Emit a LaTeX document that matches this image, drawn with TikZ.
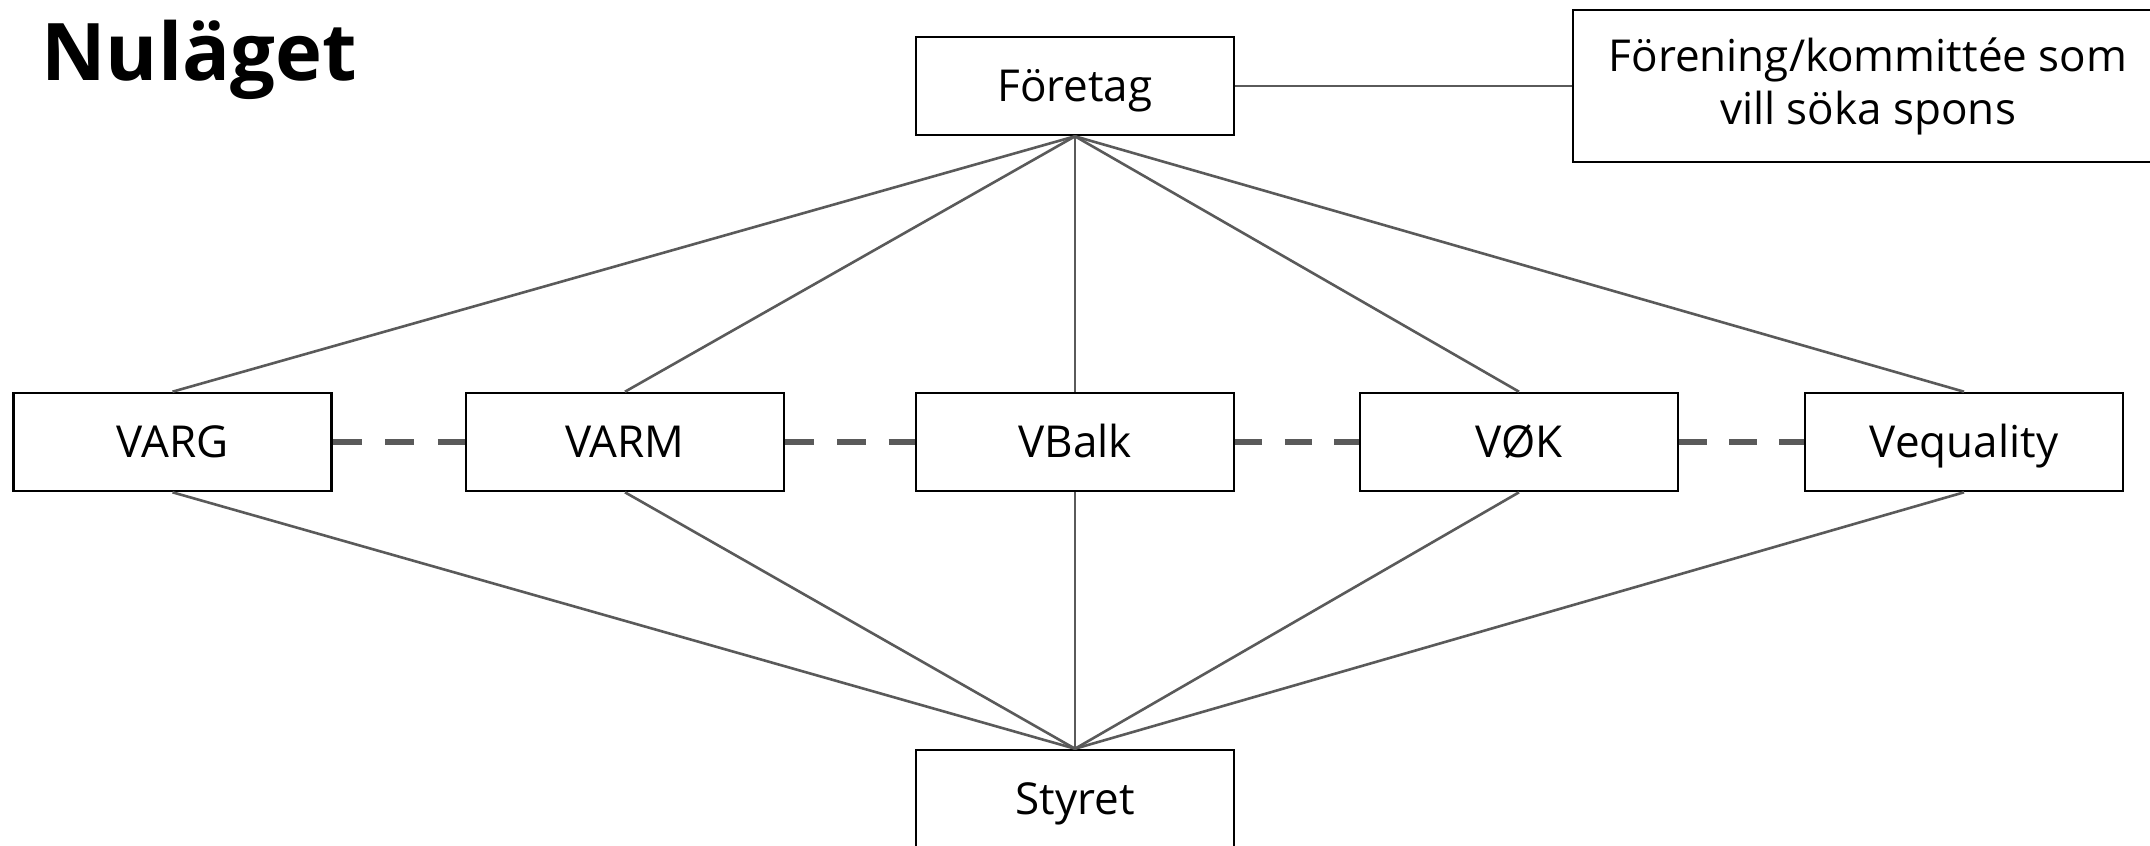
\documentclass[tikz,border=0pt]{standalone}
\usepackage{fontspec}
\setmainfont{Open Sans}
\definecolor{linegray}{HTML}{5A5A5A}
\begin{document}
\begin{tikzpicture}[x=1pt,y=-1pt,
  box/.style={draw=black, line width=2.6pt, fill=white, minimum width=318pt,
    minimum height=98pt, inner sep=0pt, font=\fontsize{44}{53}\selectfont,
    text height=31.4pt, text depth=0pt},
  conn/.style={draw=linegray, line width=2.6pt},
  dline/.style={draw=linegray, line width=6.5pt}]
\useasboundingbox (0,0) rectangle (2150,846);
\clip (0,0) rectangle (2150,846);
\fill[white] (0,0) rectangle (2150,846);

\node[anchor=base west, inner sep=0pt, font=\fontsize{79.5}{92}\selectfont\bfseries] (title) at (41,80) {Nuläget};

\node[box] (foretag) at (1075,86) {Företag};
\node[draw=black, line width=2.6pt, minimum width=590pt, minimum height=152pt, inner sep=0pt,
  align=center, font=\fontsize{44}{53}\selectfont] (foren) at (1868,86) {Förening/kommittée som\\vill söka spons};

\node[box] (varg) at (172.5,442) {VARG};
\node[box] (varm) at (625,442) {VARM};
\node[box] (vbalk) at (1075,442) {VBalk};
\node[box] (vok) at (1519,442) {VØK};
\node[box] (veq) at (1964,442) {Vequality};

\node[box] (styret) at (1075,799) {Styret};

\draw[conn] (foretag.east) -- (foretag.east -| foren.west);
\foreach \n in {varg,varm,vbalk,vok,veq}{
  \draw[conn] (foretag.south) -- (\n.north);
  \draw[conn] (\n.south) -- (styret.north);
}
\draw[dline, dash pattern=on 29pt off 23.5pt] (varg.east) -- (varm.west);
\draw[dline, dash pattern=on 28.5pt off 23.2pt] (varm.east) -- (vbalk.west);
\draw[dline, dash pattern=on 27pt off 22.5pt] (vbalk.east) -- (vok.west);
\draw[dline, dash pattern=on 27.4pt off 22.4pt] (vok.east) -- (veq.west);
\end{tikzpicture}
\end{document}
